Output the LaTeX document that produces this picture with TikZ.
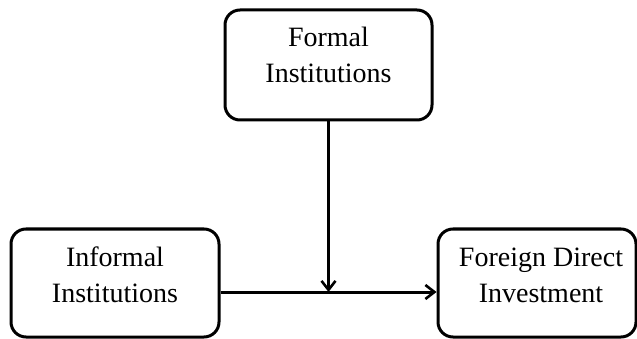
\documentclass[tikz,border=0pt]{standalone}
\usepackage{fontspec}
\setmainfont{Liberation Serif}
\usetikzlibrary{arrows.meta}
\begin{document}
\begin{tikzpicture}[x=1pt,y=-1pt,
  box/.style={draw=black, line width=3pt, rounded corners=15pt, inner sep=0pt},
  lbl/.style={align=center, inner sep=0pt, font=\fontsize{28}{36}\selectfont},
  conn/.style={line width=3pt, -{Straight Barb[length=9pt,width=14pt,line width=2.6pt]}}]
\useasboundingbox (0,0) rectangle (637,339);
\node[box, minimum width=207pt, minimum height=110pt] (formal) at (328.5,65) {};
\node[box, minimum width=208pt, minimum height=108pt] (inf) at (115,283) {};
\node[box, minimum width=198pt, minimum height=108pt] (fdi) at (537,283) {};
\node[lbl] (formaltxt) at (328.5,55) {Formal\\Institutions};
\node[lbl] (inftxt) at (115,275) {Informal\\Institutions};
\node[lbl] (fditxt) at (541,275) {Foreign Direct\\Investment};
\coordinate (j) at (328.5,292);
\draw[conn] (inf.east |- j) -- (fdi.west |- j);
\draw[conn] (formal.south) -- (j);
\end{tikzpicture}
\end{document}
